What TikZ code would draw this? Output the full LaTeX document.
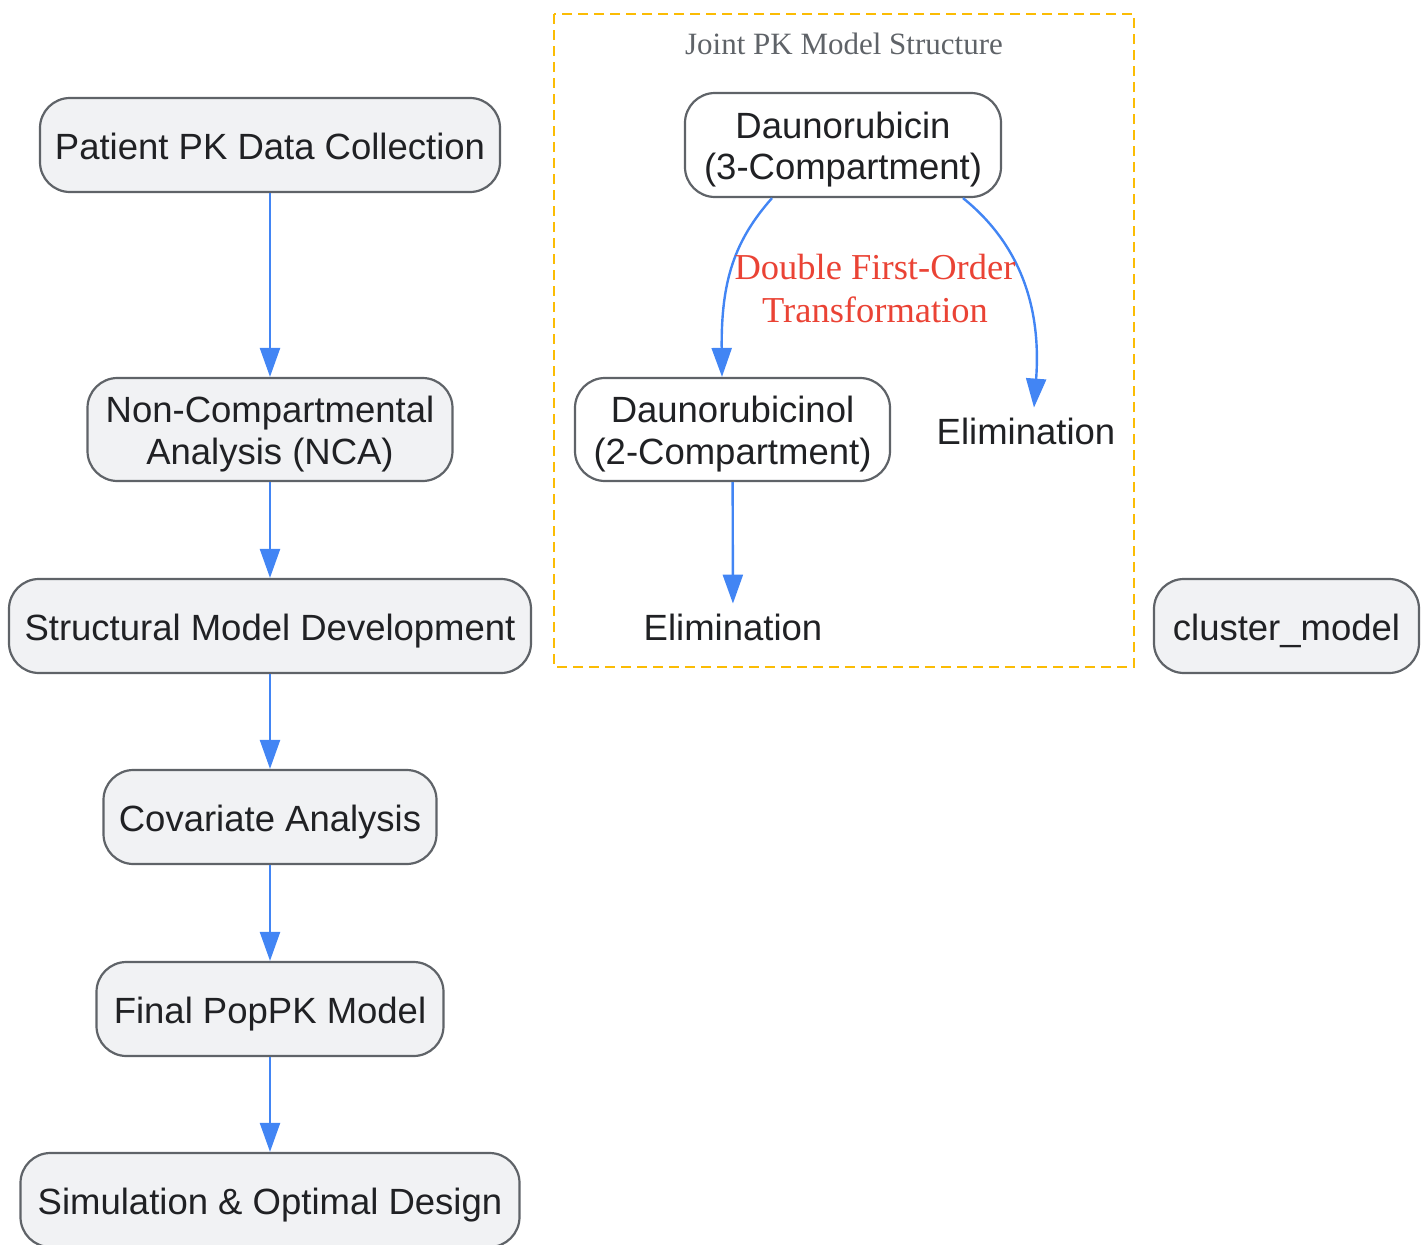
\documentclass[tikz,border=0pt]{standalone}
\usepackage{fontspec}
\setmainfont{Liberation Sans}
\newfontfamily\seriffont{Liberation Serif}
\usetikzlibrary{arrows.meta}
\definecolor{boxfill}{HTML}{F1F2F4}
\definecolor{boxdraw}{HTML}{5F6368}
\definecolor{edgeblue}{HTML}{4285F4}
\definecolor{clusterorange}{HTML}{FBBC04}
\definecolor{labelred}{HTML}{EA4335}
\definecolor{titlegrey}{HTML}{5F6368}
\definecolor{txt}{HTML}{202124}
\newcommand\topstrut{\rule{0pt}{35.7pt}}
\newcommand\botstrut{\rule[-7.7pt]{0pt}{0pt}}
\tikzset{
  procbox/.style={draw=boxdraw, line width=2.2pt, fill=boxfill, rounded corners=30pt,
    text=txt, align=center, inner sep=0pt,
    font=\fontsize{36.5}{41.6}\selectfont,
    execute at begin node=\topstrut, execute at end node=\botstrut},
  whitebox/.style={procbox, fill=white},
  plaintext/.style={text=txt, inner xsep=0pt, inner ysep=0.5pt,
    font=\fontsize{36.5}{41.6}\selectfont,
    execute at begin node=\topstrut, execute at end node=\botstrut},
  arr/.style={draw=edgeblue, line width=2.4pt, -{Triangle[length=29pt,width=20pt,fill=edgeblue]}},
}
\begin{document}
\begin{tikzpicture}[x=1pt,y=-1pt]
\useasboundingbox (0,0) rectangle (1428,1245);
% cluster
\draw[clusterorange, line width=2.4pt, dash pattern=on 10pt off 6pt] (554,14) rectangle (1134,667);
\node[text=titlegrey, font=\seriffont\fontsize{31}{36}\selectfont] (title) at (844,44) {Joint PK Model Structure};
% left chain
\node[procbox, minimum width=460pt, minimum height=94pt] (patient) at (270,145) {Patient PK Data Collection};
\node[procbox, minimum width=365pt, minimum height=103pt] (nca) at (270,429.5) {\topstrut Non-Compartmental\\Analysis (NCA)\botstrut};
\node[procbox, minimum width=522pt, minimum height=94pt] (struct) at (270,626) {Structural Model Development};
\node[procbox, minimum width=333pt, minimum height=94pt] (cov) at (270,817) {Covariate Analysis};
\node[procbox, minimum width=347pt, minimum height=94pt] (final) at (270,1009) {Final PopPK Model};
\node[procbox, minimum width=499pt, minimum height=94pt] (sim) at (270,1200) {Simulation \& Optimal Design};
% cluster nodes
\node[whitebox, minimum width=316pt, minimum height=104pt] (dauno) at (843,145) {\topstrut Daunorubicin\\(3-Compartment)\botstrut};
\node[whitebox, minimum width=315pt, minimum height=103pt] (daunol) at (732.5,429.5) {\topstrut Daunorubicinol\\(2-Compartment)\botstrut};
\node[plaintext] (elimR) at (1026,430) {Elimination};
\node[plaintext] (elimB) at (733,626) {Elimination};
\node[procbox, minimum width=265pt, minimum height=94pt] (cm) at (1286.5,626) {cluster\_model};
% edges
\draw[arr] (patient) -- (nca);
\draw[arr] (nca) -- (struct);
\draw[arr] (struct) -- (cov);
\draw[arr] (cov) -- (final);
\draw[arr] (final) -- (sim);
\draw[arr] ([xshift=-71pt]dauno.south) .. controls (735,240) and (721,280) .. ([xshift=-10.5pt]daunol.north);
\draw[arr] ([xshift=120pt]dauno.south) .. controls (1015,240) and (1042,300) .. ([xshift=8pt]elimR.north);
\draw[arr] (daunol) -- (elimB);
\node[text=labelred, align=center, inner sep=0pt, font=\seriffont\fontsize{36.5}{43}\selectfont] (lbl) at (875,289) {Double First-Order\\Transformation};
\end{tikzpicture}
\end{document}
